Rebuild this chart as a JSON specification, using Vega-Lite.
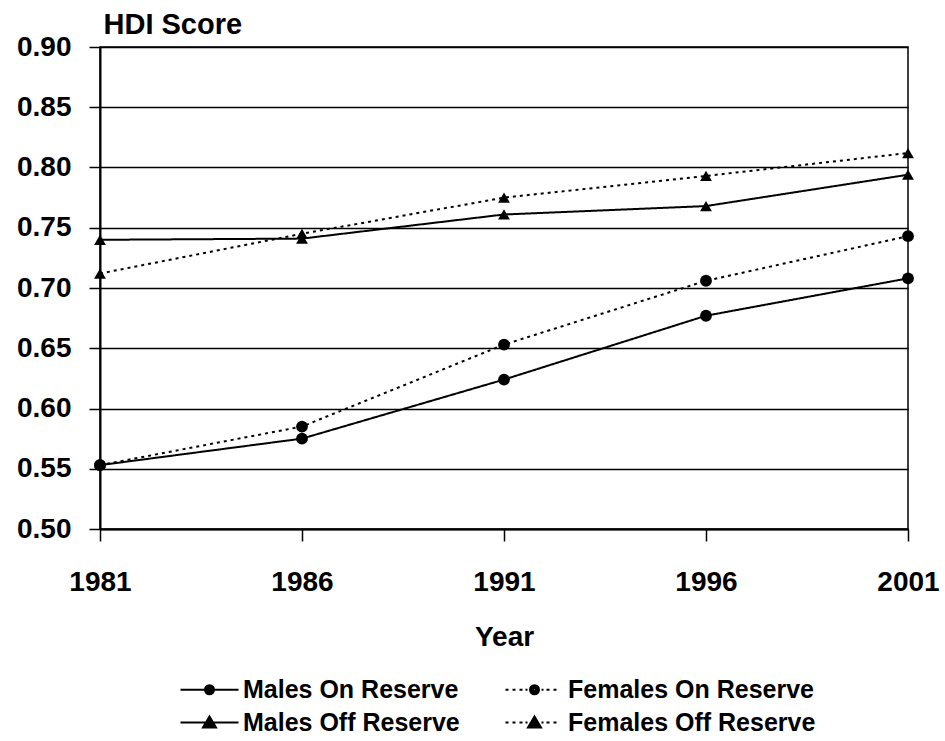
{
  "$schema": "https://vega.github.io/schema/vega-lite/v6.json",
  "width": 808,
  "height": 482,
  "autosize": {"type": "none"},
  "padding": {"left": 100, "top": 47, "right": 37, "bottom": 212},
  "background": "white",
  "data": {
    "values": [
      {"Year": 1981, "Series": "Males On Reserve", "HDI": 0.553},
      {"Year": 1986, "Series": "Males On Reserve", "HDI": 0.575},
      {"Year": 1991, "Series": "Males On Reserve", "HDI": 0.624},
      {"Year": 1996, "Series": "Males On Reserve", "HDI": 0.677},
      {"Year": 2001, "Series": "Males On Reserve", "HDI": 0.708},
      {"Year": 1981, "Series": "Females On Reserve", "HDI": 0.553},
      {"Year": 1986, "Series": "Females On Reserve", "HDI": 0.585},
      {"Year": 1991, "Series": "Females On Reserve", "HDI": 0.653},
      {"Year": 1996, "Series": "Females On Reserve", "HDI": 0.706},
      {"Year": 2001, "Series": "Females On Reserve", "HDI": 0.743},
      {"Year": 1981, "Series": "Males Off Reserve", "HDI": 0.740},
      {"Year": 1986, "Series": "Males Off Reserve", "HDI": 0.741},
      {"Year": 1991, "Series": "Males Off Reserve", "HDI": 0.761},
      {"Year": 1996, "Series": "Males Off Reserve", "HDI": 0.768},
      {"Year": 2001, "Series": "Males Off Reserve", "HDI": 0.794},
      {"Year": 1981, "Series": "Females Off Reserve", "HDI": 0.712},
      {"Year": 1986, "Series": "Females Off Reserve", "HDI": 0.745},
      {"Year": 1991, "Series": "Females Off Reserve", "HDI": 0.775},
      {"Year": 1996, "Series": "Females Off Reserve", "HDI": 0.793},
      {"Year": 2001, "Series": "Females Off Reserve", "HDI": 0.812}
    ]
  },
  "encoding": {
    "x": {
      "field": "Year",
      "type": "quantitative",
      "scale": {"domain": [1981, 2001], "nice": false, "zero": false},
      "axis": {
        "values": [1981, 1986, 1991, 1996, 2001],
        "format": "d",
        "title": "Year",
        "grid": false,
        "domainColor": "black",
        "domainWidth": 2,
        "tickColor": "black",
        "tickSize": 12,
        "tickWidth": 1.5,
        "labelFontSize": 28,
        "labelFontWeight": "bold",
        "labelColor": "black",
        "labelPadding": 27,
        "labelFlush": false,
        "labelOverlap": false,
        "titleFontSize": 28,
        "titleFontWeight": "bold",
        "titleColor": "black",
        "titlePadding": 27
      }
    },
    "y": {
      "field": "HDI",
      "type": "quantitative",
      "scale": {"domain": [0.5, 0.9], "nice": false, "zero": false},
      "axis": {
        "values": [0.5, 0.55, 0.6, 0.65, 0.7, 0.75, 0.8, 0.85, 0.9],
        "format": ".2f",
        "title": "HDI Score",
        "titleAngle": 0,
        "titleAlign": "left",
        "titleBaseline": "alphabetic",
        "titleX": 3,
        "titleY": -14,
        "titleFontSize": 29,
        "titleFontWeight": "bold",
        "titleColor": "black",
        "grid": true,
        "gridColor": "black",
        "gridWidth": 1.5,
        "gridOpacity": 1,
        "domainColor": "black",
        "domainWidth": 2,
        "tickColor": "black",
        "tickSize": 11,
        "tickWidth": 1.5,
        "labelFontSize": 28,
        "labelFontWeight": "bold",
        "labelColor": "black",
        "labelPadding": 18,
        "labelFlush": false,
        "labelOverlap": false
      }
    }
  },
  "layer": [
    {
      "mark": {"type": "line", "color": "black", "strokeWidth": 2},
      "encoding": {
        "strokeDash": {
          "field": "Series",
          "type": "nominal",
          "scale": {
            "domain": ["Males On Reserve", "Females On Reserve", "Males Off Reserve", "Females Off Reserve"],
            "range": [[1, 0], [3, 4], [1, 0], [3, 4]]
          },
          "legend": null
        }
      }
    },
    {
      "mark": {"type": "point", "filled": true, "color": "black", "opacity": 1, "size": 140},
      "encoding": {
        "shape": {
          "field": "Series",
          "type": "nominal",
          "scale": {
            "domain": ["Males On Reserve", "Females On Reserve", "Males Off Reserve", "Females Off Reserve"],
            "range": ["circle", "circle", "triangle-up", "triangle-up"]
          },
          "legend": null
        }
      }
    },
    {
      "mark": {"type": "point", "filled": false, "color": "black", "strokeWidth": 2, "opacity": 0},
      "encoding": {
        "shape": {
          "field": "Series",
          "type": "nominal",
          "scale": {
            "domain": ["Males On Reserve", "Females On Reserve", "Males Off Reserve", "Females Off Reserve"],
            "range": [
              "M-2.9,0H2.9M0.45,0A0.45,0.45 0 1,1 -0.45,0A0.45,0.45 0 1,1 0.45,0ZM0.3,0A0.3,0.3 0 1,1 -0.3,0A0.3,0.3 0 1,1 0.3,0ZM0.15,0A0.15,0.15 0 1,1 -0.15,0A0.15,0.15 0 1,1 0.15,0Z",
              "M-2.9,0H-2.6M-2.2,0H-1.9M-1.5,0H-1.2M-0.9,0H-0.7M0.7,0H0.9M1.2,0H1.5M1.9,0H2.2M0.45,0A0.45,0.45 0 1,1 -0.45,0A0.45,0.45 0 1,1 0.45,0ZM0.3,0A0.3,0.3 0 1,1 -0.3,0A0.3,0.3 0 1,1 0.3,0ZM0.15,0A0.15,0.15 0 1,1 -0.15,0A0.15,0.15 0 1,1 0.15,0Z",
              "M-2.9,0H2.9M0,-0.6L0.65,0.5L-0.65,0.5ZM-0.12,-0.4H0.12M-0.24,-0.2H0.24M-0.36,0H0.36M-0.47,0.2H0.47M-0.59,0.4H0.59",
              "M-2.9,0H-2.6M-2.2,0H-1.9M-1.5,0H-1.2M-0.9,0H-0.7M0.7,0H0.9M1.2,0H1.5M1.9,0H2.2M0,-0.6L0.65,0.5L-0.65,0.5ZM-0.12,-0.4H0.12M-0.24,-0.2H0.24M-0.36,0H0.36M-0.47,0.2H0.47M-0.59,0.4H0.59"
            ]
          },
          "legend": {
            "title": null,
            "orient": "none",
            "legendX": 97,
            "legendY": 630,
            "direction": "horizontal",
            "columns": 2,
            "symbolSize": 400,
            "symbolOpacity": 1,
            "symbolFillColor": "black",
            "symbolStrokeColor": "black",
            "symbolStrokeWidth": 2,
            "labelFontSize": 25,
            "labelFontWeight": "bold",
            "labelColor": "black",
            "labelOffset": 21,
            "labelLimit": 400,
            "rowPadding": 7,
            "columnPadding": 41
          }
        }
      }
    }
  ],
  "resolve": {"scale": {"shape": "independent"}},
  "config": {
    "font": "Liberation Sans",
    "view": {"stroke": "black", "strokeWidth": 1.5}
  }
}
